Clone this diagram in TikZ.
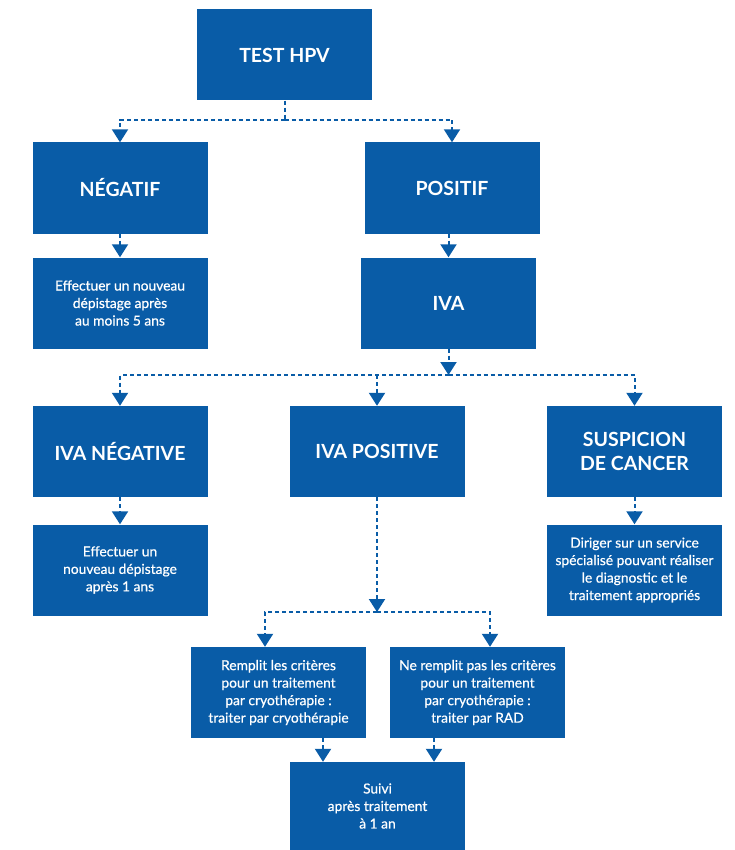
\documentclass[tikz,border=0pt]{standalone}
\usepackage{fontspec}
\setmainfont{Lato}
\newfontfamily\bodyfont[FakeBold=0.6]{Lato}
\usetikzlibrary{arrows.meta}
\definecolor{flowblue}{RGB}{9,92,167}
\tikzset{
  box/.style={rectangle, fill=flowblue, text=white, inner sep=0pt,
    minimum width=175pt, minimum height=91pt, align=center},
  titlebox/.style={box, font=\fontsize{19.5}{24.5}\selectfont\bfseries},
  textbox/.style={box, font=\bodyfont\fontsize{13.8}{17.5}\selectfont},
  dline/.style={draw=flowblue, line width=2pt, dash pattern=on 4pt off 3pt},
  arr/.style={dline, -{Triangle[width=16pt,length=13pt]}}
}
\begin{document}
\begin{tikzpicture}[x=1pt, y=-1pt]
\useasboundingbox (0,0) rectangle (734,850);

% boxes
\node[titlebox] (hpv)    at (284.5,55)  {TEST HPV};
\node[titlebox] (neg)    at (120,188)   {NÉGATIF};
\node[titlebox] (pos)    at (452,188)   {POSITIF};
\node[textbox]  (rep5)   at (120,303)   {Effectuer un nouveau\\dépistage après\\au moins 5 ans};
\node[titlebox] (iva)    at (448.5,303) {IVA};
\node[titlebox] (ivaneg) at (120,451.5) {IVA NÉGATIVE};
\node[titlebox] (ivapos) at (377,451.5) {IVA POSITIVE};
\node[titlebox] (susp)   at (634.5,451.5) {SUSPICION\\DE CANCER};
\node[textbox]  (rep1)   at (120,570)   {Effectuer un\\nouveau dépistage\\après 1 ans};
\node[textbox]  (dir)    at (634.5,570) {Diriger sur un service\\spécialisé pouvant réaliser\\le diagnostic et le\\traitement appropriés};
\node[textbox]  (rem)    at (278.5,692.5) {Remplit les critères\\pour un traitement\\par cryothérapie :\\traiter par cryothérapie};
\node[textbox]  (nrem)   at (477.5,692.5) {Ne remplit pas les critères\\pour un traitement\\par cryothérapie :\\traiter par RAD};
\node[textbox, minimum height=88pt] (suivi) at (377.5,806) {Suivi\\après traitement\\à 1 an};

% junction points
\coordinate (j1) at (284.5,120);
\coordinate (j3) at (448.5,375);
\coordinate (j4) at (377,612);
\coordinate (ra) at (265,0);
\coordinate (rb) at (490,0);
\coordinate (sa) at (323,0);
\coordinate (sb) at (434,0);

% connectors
\draw[dline] (hpv.south) -- (j1);
\draw[arr] (j1) -| (neg.north);
\draw[arr] (j1) -| (pos.north);
\draw[arr] (neg.south) -- (rep5.north);
\draw[arr] (pos.south -| iva.north) -- (iva.north);
\draw[arr] (iva.south) -- (j3);
\draw[arr] (j3) -| (ivaneg.north);
\draw[arr] (j3) -| (susp.north);
\draw[arr] (j3 -| ivapos.north) -- (ivapos.north);
\draw[arr] (ivaneg.south) -- (rep1.north);
\draw[arr] (susp.south) -- (dir.north);
\draw[arr] (ivapos.south) -- (j4);
\draw[arr] (j4) -| (rem.north -| ra);
\draw[arr] (j4) -| (nrem.north -| rb);
\draw[arr] (rem.south -| sa) -- (suivi.north -| sa);
\draw[arr] (nrem.south -| sb) -- (suivi.north -| sb);
\end{tikzpicture}
\end{document}
